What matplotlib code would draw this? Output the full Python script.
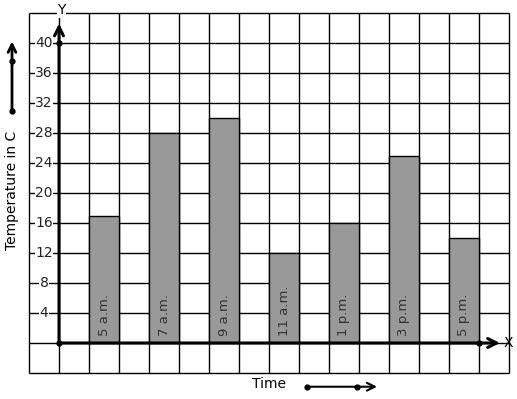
import matplotlib
matplotlib.use('Agg')
import matplotlib.pyplot as plt
import numpy as np

# data
times = ['5 a.m.', '7 a.m.', '9 a.m.', '11 a.m.', '1 p.m.', '3 p.m.', '5 p.m.']
temps = [17, 28, 30, 12, 16, 25, 14]
yticks = [4, 8, 12, 16, 20, 24, 28, 32, 36, 40]

# axes in grid-cell units: 1 unit on x = one column, 4 degrees = one row
fig = plt.figure(figsize=(5.17, 3.99), dpi=100)
ax = fig.add_axes([0, 0, 1, 1])
ax.set_xlim(-59 / 30, (517 - 59) / 30)
ax.set_ylim((343 - 399) / 7.5, 343 / 7.5)
ax.axis('off')

# graph paper
ax.vlines(np.arange(-1, 16), -4, 44, color='black', lw=1, zorder=1)
ax.hlines(np.arange(-4, 45, 4), -1, 15, color='black', lw=1, zorder=1)

# bars
pos = 1.5 + 2 * np.arange(len(times))
ax.bar(pos, temps, width=1, color='#999999', edgecolor='black', lw=1, zorder=2)
for x, lab in zip(pos, times):
    ax.text(x, 0.9, lab, rotation=90, ha='center', va='bottom',
            fontsize=9.5, color='#333333', zorder=3)

# axes with arrows
ax.annotate('', xy=(0, 42.6), xytext=(0, 0),
            arrowprops=dict(arrowstyle='->', lw=2.2, color='black',
                            mutation_scale=16, shrinkA=0, shrinkB=0), zorder=4)
ax.annotate('', xy=(14.7, 0), xytext=(0, 0),
            arrowprops=dict(arrowstyle='->', lw=2.2, color='black',
                            mutation_scale=16, shrinkA=0, shrinkB=0), zorder=4)
ax.plot([0, 0, 14], [0, 40, 0], 'o', color='black', ms=3.5, zorder=5)

# tick labels
for v in yticks:
    ax.text(-0.5, v, str(v), ha='center', va='center', fontsize=10,
            color='#222222', zorder=3,
            bbox=dict(facecolor='white', edgecolor='none', pad=0.3))
ax.text(0.08, 44.4, 'Y', ha='center', va='center', fontsize=10, zorder=3,
        bbox=dict(facecolor='white', edgecolor='none', pad=0.5))
ax.text(14.97, 0, 'X', ha='center', va='center', fontsize=10, zorder=3)

# axis titles with little arrows
ax.text(-1.55, 20.3, 'Temperature in C', rotation=90, ha='center',
        va='center', fontsize=10)
ax.annotate('', xy=(-1.567, 40.2), xytext=(-1.567, 31.0),
            arrowprops=dict(arrowstyle='->', lw=2, color='black',
                            mutation_scale=14, shrinkA=0, shrinkB=0))
ax.plot([-1.567, -1.567], [31.0, 37.6], 'o', color='black', ms=3.5)

ax.text(7.0, -5.47, 'Time', ha='center', va='center', fontsize=10)
ax.annotate('', xy=(10.6, -5.83), xytext=(8.27, -5.83),
            arrowprops=dict(arrowstyle='->', lw=1.5, color='black',
                            mutation_scale=14, shrinkA=0, shrinkB=0))
ax.plot([8.27, 9.93], [-5.83, -5.83], 'o', color='black', ms=3.5)

fig.savefig('out.png', dpi=100)
